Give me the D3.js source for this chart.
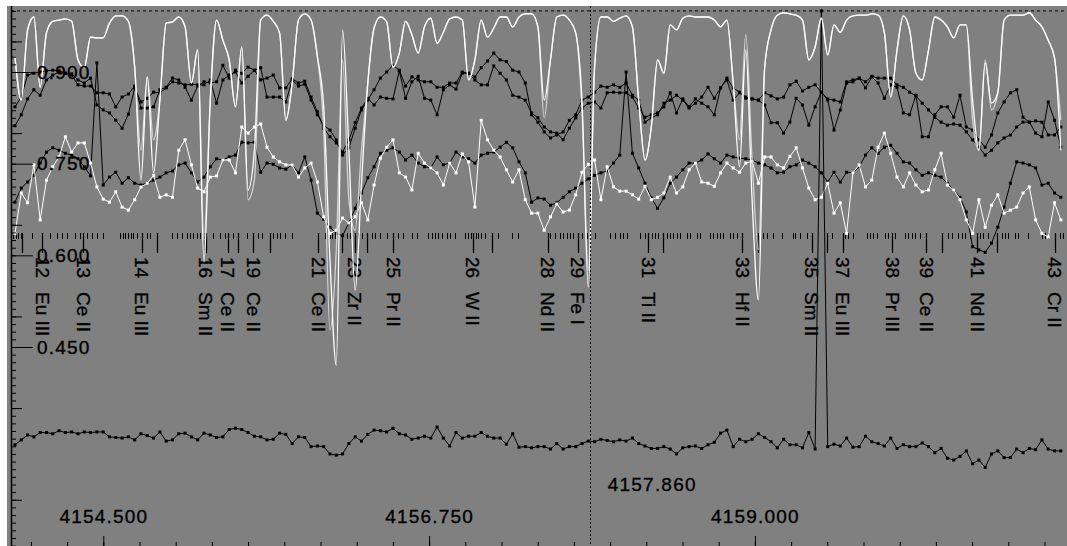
<!DOCTYPE html>
<html>
<head>
<meta charset="utf-8">
<script src="https://cdn.jsdelivr.net/npm/d3@7"></script>
<style>
  body { margin: 0; background: #fff; }
  svg { display: block; }
  text { font-family: "Liberation Sans", Arial, sans-serif; }
</style>
</head>
<body>
<svg id="chart"></svg>
<script>

// wavelength sampling of the observed spectra (Angstrom)
const waveStart = 4153.890;
const waveStep = 0.04351;

// observed spectra, normalised flux
const fluxObsA = [0.843,0.859,0.895,0.898,0.900,0.902,0.903,0.902,0.898,0.895,
0.879,0.877,0.877,0.866,0.866,0.864,0.843,0.859,0.864,0.877,
0.841,0.841,0.843,0.871,0.875,0.890,0.887,0.875,0.854,0.877,
0.884,0.882,0.884,0.911,0.890,0.903,0.898,0.908,0.903,0.907,
0.859,0.859,0.859,0.851,0.887,0.877,0.880,0.854,0.830,0.813,
0.805,0.789,0.764,0.776,0.808,0.838,0.854,0.871,0.890,0.900,
0.911,0.903,0.877,0.892,0.887,0.884,0.884,0.875,0.875,0.882,
0.882,0.900,0.898,0.892,0.907,0.918,0.931,0.920,0.917,0.903,
0.900,0.882,0.830,0.818,0.802,0.792,0.797,0.802,0.821,0.830,
0.854,0.859,0.867,0.877,0.875,0.879,0.875,0.882,0.862,0.854,
0.818,0.825,0.830,0.849,0.854,0.862,0.854,0.841,0.849,0.859,
0.875,0.857,0.874,0.887,0.854,0.866,0.857,0.856,0.854,0.866,
0.861,0.856,0.859,0.879,0.885,0.869,0.875,0.879,0.867,0.856,
0.854,0.851,0.884,0.887,0.890,0.884,0.893,0.890,0.890,0.890,
0.879,0.875,0.867,0.861,0.849,0.838,0.826,0.818,0.813,0.815,
0.813,0.802,0.789,0.777,0.764,0.772,0.784,0.792,0.797,0.810,
0.818,0.818,0.820,0.818,0.797,0.797,0.810];

const fluxObsB = [0.812,0.830,0.856,0.871,0.862,0.887,0.895,0.900,0.898,0.897,
0.887,0.882,0.890,0.846,0.838,0.833,0.821,0.808,0.831,0.874,
0.851,0.857,0.867,0.866,0.874,0.884,0.882,0.879,0.880,0.879,
0.879,0.887,0.849,0.887,0.895,0.900,0.882,0.893,0.903,0.887,
0.890,0.895,0.874,0.874,0.889,0.882,0.885,0.859,0.835,0.808,
0.794,0.784,0.769,0.789,0.817,0.841,0.857,0.846,0.859,0.857,
0.856,0.902,0.857,0.884,0.893,0.857,0.854,0.830,0.871,0.879,
0.872,0.898,0.898,0.887,0.879,0.879,0.910,0.898,0.887,0.862,
0.859,0.854,0.833,0.825,0.810,0.802,0.800,0.789,0.808,0.825,
0.841,0.849,0.851,0.841,0.866,0.867,0.866,0.866,0.859,0.841,
0.826,0.830,0.833,0.843,0.866,0.833,0.856,0.843,0.856,0.849,
0.843,0.830,0.874,0.890,0.874,0.867,0.859,0.856,0.854,0.846,
0.817,0.817,0.800,0.818,0.857,0.846,0.813,0.843,0.867,0.854,
0.805,0.838,0.882,0.884,0.890,0.874,0.892,0.882,0.857,0.879,
0.875,0.833,0.830,0.862,0.794,0.794,0.830,0.843,0.843,0.826,
0.862,0.810,0.805,0.789,0.777,0.797,0.833,0.851,0.866,0.871,
0.826,0.818,0.800,0.794,0.851,0.821,0.777];

const fluxObsC = [0.687,0.710,0.720,0.731,0.751,0.769,0.776,0.772,0.767,0.764,
0.758,0.745,0.730,0.915,0.715,0.728,0.736,0.718,0.727,0.718,
0.715,0.718,0.723,0.728,0.735,0.738,0.748,0.751,0.735,0.720,
0.728,0.745,0.758,0.756,0.761,0.764,0.785,0.784,0.785,0.736,
0.751,0.749,0.743,0.741,0.748,0.735,0.761,0.723,0.669,0.659,
0.646,0.636,0.632,0.653,0.677,0.702,0.727,0.745,0.767,0.772,
0.776,0.769,0.756,0.764,0.751,0.745,0.743,0.761,0.748,0.751,
0.769,0.761,0.758,0.751,0.764,0.767,0.769,0.777,0.785,0.776,
0.753,0.735,0.687,0.694,0.692,0.682,0.686,0.695,0.704,0.710,
0.718,0.725,0.731,0.735,0.738,0.751,0.764,0.900,0.767,0.743,
0.718,0.694,0.677,0.694,0.718,0.728,0.740,0.751,0.751,0.756,
0.766,0.758,0.751,0.764,0.761,0.759,0.758,0.756,0.751,0.748,
0.743,0.735,0.736,0.745,0.748,0.756,0.751,0.745,0.735,0.720,
0.736,0.720,0.736,0.735,0.745,0.764,0.776,0.767,0.777,0.780,
0.767,0.753,0.751,0.740,0.731,0.735,0.731,0.728,0.718,0.707,
0.695,0.671,0.614,0.609,0.605,0.620,0.646,0.679,0.718,0.753,
0.751,0.748,0.743,0.715,0.718,0.702,0.695];

const fluxObsD = [0.636,0.702,0.686,0.748,0.658,0.723,0.745,0.761,0.794,0.769,
0.784,0.784,0.751,0.712,0.692,0.687,0.704,0.679,0.674,0.691,
0.712,0.718,0.731,0.695,0.699,0.695,0.772,0.789,0.748,0.710,
0.704,0.728,0.730,0.756,0.756,0.735,0.810,0.800,0.810,0.815,
0.777,0.761,0.753,0.748,0.748,0.728,0.743,0.751,0.720,0.663,
0.636,0.641,0.661,0.653,0.663,0.686,0.658,0.715,0.759,0.777,
0.789,0.735,0.728,0.707,0.767,0.751,0.743,0.735,0.715,0.751,
0.735,0.766,0.753,0.679,0.821,0.789,0.772,0.761,0.740,0.720,
0.740,0.691,0.669,0.669,0.641,0.663,0.684,0.671,0.674,0.699,
0.736,0.749,0.756,0.691,0.745,0.712,0.705,0.705,0.699,0.692,
0.713,0.691,0.695,0.702,0.728,0.702,0.712,0.740,0.751,0.720,
0.718,0.713,0.735,0.751,0.743,0.736,0.751,0.754,0.718,0.761,
0.761,0.748,0.743,0.762,0.776,0.743,0.710,0.691,0.695,0.718,
0.669,0.686,0.636,0.735,0.748,0.712,0.723,0.777,0.800,0.767,
0.728,0.712,0.735,0.715,0.704,0.707,0.740,0.767,0.715,0.707,
0.691,0.658,0.636,0.691,0.646,0.682,0.699,0.669,0.674,0.679,
0.702,0.712,0.658,0.636,0.630,0.686,0.658];

// synthetic spectra
const synthA = [0.925,0.854,0.969,0.990,0.875,0.964,0.983,0.985,0.987,0.983,
0.920,0.907,0.957,0.956,0.956,0.980,0.992,0.992,0.983,0.908,
0.723,0.892,0.735,0.854,0.980,0.982,0.990,0.974,0.882,0.936,
0.589,0.854,0.985,0.952,0.920,0.843,0.941,0.707,0.772,0.985,
0.993,0.983,0.964,0.821,0.882,0.985,0.995,0.985,0.925,0.843,
0.592,0.420,0.969,0.772,0.543,0.718,0.882,0.972,0.990,0.982,
0.908,0.931,0.983,0.961,0.931,0.974,0.988,0.947,0.965,0.987,
0.990,0.985,0.887,0.920,0.985,0.957,0.972,0.990,0.990,0.974,
0.990,0.995,0.995,0.974,0.854,0.920,0.990,0.993,0.985,0.964,
0.854,0.548,0.908,0.990,0.990,0.983,0.988,0.992,0.974,0.854,
0.756,0.810,0.920,0.898,0.977,0.969,0.988,0.992,0.990,0.990,
0.990,0.985,0.974,0.985,0.882,0.745,0.936,0.691,0.527,0.908,
0.969,0.993,0.997,0.995,0.993,0.985,0.920,0.941,0.988,0.928,
0.977,0.965,0.985,0.992,0.993,0.993,0.995,0.993,0.964,0.859,
0.936,0.992,0.969,0.898,0.887,0.936,0.990,0.985,0.974,0.956,
0.977,0.977,0.854,0.772,0.915,0.849,0.866,0.985,0.993,0.993,
0.993,0.997,0.985,0.974,0.952,0.923,0.772];

const synthB = [0.925,0.854,0.969,0.990,0.875,0.964,0.983,0.985,0.987,0.983,
0.920,0.907,0.957,0.956,0.956,0.980,0.992,0.992,0.983,0.908,
0.772,0.892,0.789,0.854,0.980,0.982,0.990,0.974,0.882,0.936,
0.625,0.854,0.985,0.952,0.920,0.843,0.941,0.691,0.723,0.985,
0.993,0.983,0.964,0.821,0.882,0.985,0.995,0.985,0.925,0.805,
0.478,0.609,0.920,0.691,0.641,0.772,0.882,0.972,0.990,0.982,
0.908,0.931,0.983,0.961,0.931,0.974,0.988,0.947,0.965,0.987,
0.990,0.985,0.887,0.920,0.985,0.957,0.972,0.990,0.990,0.974,
0.990,0.995,0.995,0.974,0.825,0.920,0.990,0.993,0.985,0.964,
0.838,0.576,0.908,0.990,0.990,0.983,0.988,0.992,0.974,0.854,
0.756,0.810,0.920,0.898,0.977,0.969,0.988,0.992,0.990,0.990,
0.990,0.985,0.974,0.985,0.882,0.789,0.961,0.756,0.609,0.908,
0.969,0.993,0.997,0.995,0.993,0.985,0.920,0.941,0.988,0.928,
0.977,0.965,0.985,0.992,0.993,0.993,0.995,0.993,0.964,0.859,
0.936,0.992,0.969,0.898,0.887,0.936,0.990,0.985,0.974,0.956,
0.977,0.977,0.821,0.772,0.920,0.838,0.866,0.985,0.993,0.993,
0.993,0.997,0.985,0.974,0.952,0.923,0.821];

// residual spectrum (bottom)
const residual = [0.290,0.298,0.306,0.303,0.310,0.310,0.308,0.313,0.310,0.311,
0.308,0.311,0.310,0.311,0.311,0.303,0.302,0.301,0.303,0.298,
0.308,0.305,0.301,0.311,0.296,0.298,0.308,0.309,0.303,0.298,
0.309,0.306,0.302,0.303,0.315,0.317,0.315,0.310,0.304,0.303,
0.298,0.299,0.309,0.307,0.292,0.303,0.302,0.287,0.288,0.287,
0.275,0.273,0.275,0.292,0.303,0.296,0.307,0.314,0.313,0.311,
0.317,0.308,0.306,0.299,0.301,0.304,0.301,0.319,0.301,0.288,
0.310,0.301,0.304,0.304,0.310,0.304,0.301,0.301,0.291,0.308,
0.286,0.287,0.285,0.287,0.287,0.283,0.292,0.283,0.287,0.287,
0.292,0.296,0.295,0.299,0.297,0.295,0.298,0.296,0.301,0.292,
0.288,0.284,0.284,0.287,0.283,0.275,0.285,0.287,0.288,0.284,
0.290,0.294,0.309,0.314,0.287,0.299,0.295,0.299,0.308,0.302,
0.295,0.285,0.299,0.290,0.290,0.285,0.310,0.283,1.000,0.287,
0.291,0.288,0.301,0.286,0.287,0.304,0.295,0.292,0.288,0.301,
0.284,0.290,0.287,0.287,0.293,0.287,0.277,0.284,0.268,0.265,
0.271,0.280,0.259,0.265,0.253,0.275,0.280,0.269,0.269,0.283,
0.277,0.284,0.282,0.298,0.283,0.280,0.280];

// line identifications
const idWaves = [4154.077,4154.360,4154.767,4155.209,4155.361,4155.534,4155.983,4156.238,4156.501,4157.053,
                 4157.571,4157.778,4158.262,4158.911,4159.394,4159.608,4159.947,4160.182,4160.534,4161.072];
const idNums  = ["12","13","14","16","17","19","21","23","25","26","28","29","31","33","35","37","38","39","41","43"];
const idNames = ["Eu III","Ce II","Eu III","Sm II","Ce II","Ce II","Ce II","Zr II","Pr II","W II",
                 "Nd II","Fe I","Ti II","Hf II","Sm II","Eu III","Pr III","Ce II","Nd II","Cr II"];
const markWaves = [4153.939,4154.871,4155.430,4155.651,4156.149,4156.321,4157.184,4158.365,4159.021,4159.498,4160.292,4160.672];
const lineTickWaves = [4153.876,4153.897,4153.911,4153.932,4154.008,4154.132,4154.180,4154.215,4154.249,4154.305,
4154.339,4154.388,4154.422,4154.457,4154.498,4154.615,4154.636,4154.650,4154.671,4154.691,4154.705,4154.733,
4154.802,4154.823,4154.975,4155.009,4155.044,4155.078,4155.099,4155.120,4155.147,4155.168,4155.196,4155.258,
4155.306,4155.341,4155.396,4155.492,4155.568,4155.596,4155.672,4155.700,4155.720,4155.755,4155.803,4156.031,
4156.066,4156.079,4156.100,4156.183,4156.204,4156.259,4156.287,4156.356,4156.376,4156.411,4156.459,4156.535,
4156.570,4156.632,4156.666,4156.742,4156.770,4156.791,4156.812,4156.839,4156.874,4156.894,4156.929,4156.998,
4157.019,4157.039,4157.074,4157.088,4157.108,4157.136,4157.226,4157.322,4157.364,4157.585,4157.620,4157.654,
4157.675,4157.702,4157.723,4157.744,4157.806,4157.841,4157.861,4157.896,4157.999,4158.034,4158.068,4158.089,
4158.117,4158.207,4158.241,4158.289,4158.310,4158.331,4158.393,4158.414,4158.434,4158.462,4158.483,4158.531,
4158.552,4158.600,4158.621,4158.690,4158.711,4158.738,4158.759,4158.780,4158.828,4158.849,4158.876,4159.056,
4159.084,4159.125,4159.187,4159.263,4159.277,4159.311,4159.360,4159.532,4159.622,4159.643,4159.678,4159.774,
4159.795,4159.816,4159.843,4159.898,4159.919,4159.968,4160.037,4160.057,4160.085,4160.106,4160.140,4160.334,
4160.361,4160.403,4160.430,4160.451,4160.486,4160.555,4160.575,4160.610,4160.706,4160.727,4160.748,4160.796,
4160.817,4160.886,4160.983,4161.004,4161.024,4161.107,4161.128];

// axes
const xLabelTicks = [4154.5, 4156.75, 4159.0];
const yLabelTicks = [0.900, 0.750, 0.600, 0.450];
const yMidTicks = [0.95, 0.80, 0.65, 0.50, 0.35, 0.20];
const cursorWave = 4157.860;


const W = 1067, H = 546;
const svg = d3.select('#chart').attr('width', W).attr('height', H);

const x = d3.scaleLinear().domain([4154.5, 4159.0]).range([103.3, 754.9]);
const y = d3.scaleLinear().domain([1.0, 0.45]).range([10.9, 347.0]);

const waves = fluxObsA.map((d, i) => waveStart + i * waveStep);
const toPts = arr => arr.map((f, i) => ({w: waves[i], f: f}));

// label look: slightly heavy, like the original bitmap font
function labelStyle(sel) {
  sel.style('font-size', '19px')
     .style('font-family', '"Liberation Sans", Arial, sans-serif')
     .attr('fill', '#000')
     .attr('stroke', '#000').attr('stroke-width', 0.35);
}

// plot background
svg.append('rect').attr('x', 7).attr('y', 6).attr('width', W - 7).attr('height', H - 6).attr('fill', '#808080');

// continuum level
svg.append('line')
    .attr('x1', 11).attr('x2', W).attr('y1', y(1.0)).attr('y2', y(1.0))
    .attr('stroke', '#000').attr('stroke-width', 1).attr('stroke-dasharray', '3,3');

// line identification ticks
const ids = svg.append('g').attr('id', 'line-ids');
ids.selectAll('line.short').data(lineTickWaves).enter().append('line')
    .attr('class', 'short')
    .attr('x1', d => Math.round(x(d)) + 0.5).attr('x2', d => Math.round(x(d)) + 0.5)
    .attr('y1', 233).attr('y2', 239)
    .attr('stroke', '#000').attr('stroke-width', 1);
ids.selectAll('line.long').data(idWaves.concat(markWaves)).enter().append('line')
    .attr('class', 'long')
    .attr('x1', d => Math.round(x(d)) + 0.5).attr('x2', d => Math.round(x(d)) + 0.5)
    .attr('y1', 233).attr('y2', 253)
    .attr('stroke', '#000').attr('stroke-width', 1.3);

idWaves.forEach(function(w, i) {
  const g = ids.append('g').attr('transform', 'translate(' + x(w) + ',0)');
  g.append('text')
    .attr('transform', 'translate(0,257) rotate(90)')
    .attr('dominant-baseline', 'central')
    .call(labelStyle)
    .text(idNums[i]);
  g.append('text')
    .attr('transform', 'translate(0,292) rotate(90)')
    .attr('dominant-baseline', 'central')
    .call(labelStyle)
    .text(idNames[i]);
});

// observed spectra with markers
function drawDotted(arr, colour) {
  const pts = toPts(arr);
  svg.append('path')
    .datum(pts)
    .attr('fill', 'none')
    .attr('stroke', colour)
    .attr('stroke-width', 1)
    .attr('d', d3.line().x(d => x(d.w)).y(d => y(d.f)));
  svg.append('g').selectAll('rect').data(pts).enter().append('rect')
    .attr('x', d => x(d.w) - 1.5).attr('y', d => y(d.f) - 1.5)
    .attr('width', 3).attr('height', 3)
    .attr('fill', colour);
}

drawDotted(fluxObsA, '#000');
drawDotted(fluxObsB, '#000');
drawDotted(fluxObsC, '#000');
drawDotted(fluxObsD, '#fff');
drawDotted(residual, '#000');

// synthetic spectra
[[synthB, '#d4d4d4'], [synthA, '#ffffff']].forEach(function(s) {
  svg.append('path')
    .datum(toPts(s[0]))
    .attr('fill', 'none')
    .attr('stroke', s[1])
    .attr('stroke-width', 1.3)
    .attr('d', d3.line().curve(d3.curveMonotoneX).x(d => x(d.w)).y(d => y(d.f)));
});

// cursor
svg.append('line')
    .attr('x1', Math.round(x(cursorWave)) + 0.5).attr('x2', Math.round(x(cursorWave)) + 0.5)
    .attr('y1', 6).attr('y2', H)
    .attr('stroke', '#000').attr('stroke-width', 1).attr('stroke-dasharray', '2,2');
svg.append('text')
    .attr('x', x(cursorWave) + 18).attr('y', 491)
    .call(labelStyle).style('letter-spacing', '1.2px')
    .text(d3.format('.3f')(cursorWave));

// y axis
const yAxisG = svg.append('g').attr('transform', 'translate(11,0)');
yAxisG.append('g')
    .call(d3.axisRight(y).tickValues(d3.range(0.125, 1.0001, 0.0125)).tickSize(5).tickFormat(''));
yAxisG.append('g')
    .call(d3.axisRight(y).tickValues(yMidTicks).tickSize(11).tickFormat(''));
yAxisG.append('g')
    .call(d3.axisRight(y).tickValues(yLabelTicks).tickSize(22).tickPadding(4).tickFormat(d3.format('.3f')));
yAxisG.selectAll('.domain').remove();
yAxisG.selectAll('line').attr('stroke', '#000');
yAxisG.selectAll('text').call(labelStyle).style('letter-spacing', '1.2px');
svg.append('line')
    .attr('x1', 11.5).attr('x2', 11.5).attr('y1', 6).attr('y2', H)
    .attr('stroke', '#000').attr('stroke-width', 1.5);

// x axis (ticks point inward from the bottom edge)
const xAxisG = svg.append('g').attr('transform', 'translate(0,' + H + ')');
xAxisG.append('g')
    .call(d3.axisTop(x).tickValues(d3.range(4154.0, 4161.01, 0.25)).tickSize(4).tickFormat(''));
xAxisG.append('g')
    .call(d3.axisTop(x).tickValues(xLabelTicks).tickSize(10).tickPadding(13).tickFormat(d3.format('.3f')));
xAxisG.selectAll('.domain').remove();
xAxisG.selectAll('line').attr('stroke', '#000');
xAxisG.selectAll('text').call(labelStyle).style('letter-spacing', '1.2px');

</script>
</body>
</html>
